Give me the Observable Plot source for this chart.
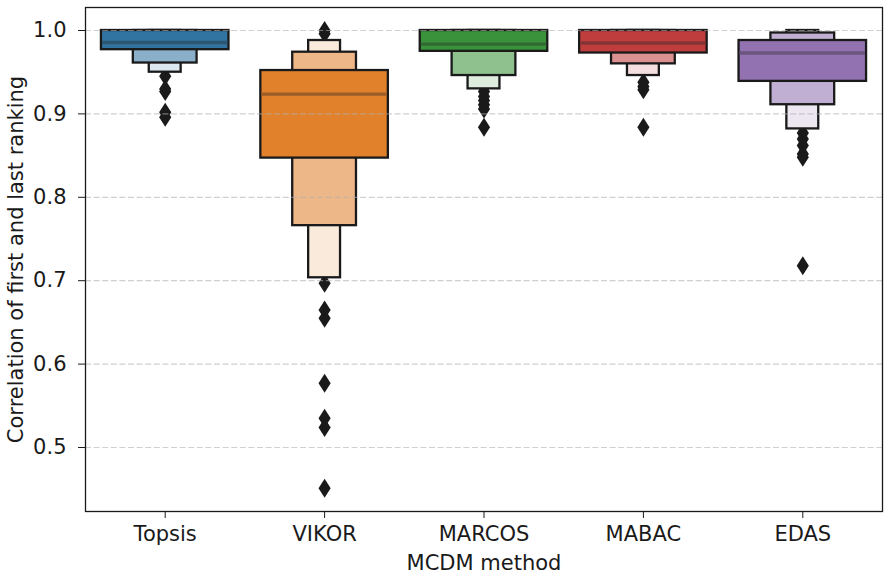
<!DOCTYPE html>
<html>
<head>
<meta charset="utf-8">
<script src="https://cdn.jsdelivr.net/npm/d3@7"></script>
<script src="https://cdn.jsdelivr.net/npm/@observablehq/plot@0.6"></script>
<style>
  html, body { margin: 0; padding: 0; background: #fff; }
  #chart { width: 885px; height: 577px; }
  #chart svg text { font-family: "DejaVu Sans", sans-serif; font-size: 21px; fill: #1a1a1a; }
</style>
</head>
<body>
<div id="chart"></div>
<script>
// ---- Data ----
const methods = ["Topsis", "VIKOR", "MARCOS", "MABAC", "EDAS"];
const baseColors = ["#3274a1", "#e1812c", "#3a923a", "#c03d3e", "#9372b2"];
const medians  = [0.9856, 0.9236, 0.9836, 0.9850, 0.9730];
const level1Lo = [0.977, 0.847, 0.975, 0.973, 0.939];
const level1Hi = [1.000, 0.952, 1.000, 1.000, 0.988];
const level2Lo = [0.961, 0.766, 0.946, 0.960, 0.911];
const level2Hi = [1.000, 0.974, 1.000, 1.000, 0.997];
const level3Lo = [0.950, 0.7035, 0.930, 0.946, 0.882];
const level3Hi = [1.000, 0.988, 1.000, 1.000, 1.000];
const topsisOutliers = [0.945, 0.930, 0.927, 0.902, 0.896];
const vikorOutliers  = [1.000, 0.996, 0.697, 0.665, 0.655, 0.577, 0.535, 0.524, 0.451];
const marcosOutliers = [0.927, 0.921, 0.916, 0.911, 0.906, 0.884];
const mabacOutliers  = [0.938, 0.933, 0.929, 0.884];
const edasOutliers   = [0.877, 0.870, 0.862, 0.852, 0.848, 0.718];
const yTicks = [0.5, 0.6, 0.7, 0.8, 0.9, 1.0];

// ---- Derived tables ----
const levelWidths = [0.8, 0.4, 0.2];
const levelLight = [0, 0.43, 0.83];
const levelsLo = [level1Lo, level2Lo, level3Lo];
const levelsHi = [level1Hi, level2Hi, level3Hi];
const boxes = [];
for (let k = 2; k >= 0; k--) {
  methods.forEach((m, i) => {
    boxes.push({
      i, x1: i - levelWidths[k] / 2, x2: i + levelWidths[k] / 2,
      lo: levelsLo[k][i], hi: levelsHi[k][i],
      color: d3.interpolateRgb(baseColors[i], "#ffffff")(levelLight[k])
    });
  });
}
const medianRows = methods.map((m, i) => ({
  x1: i - levelWidths[0] / 2, x2: i + levelWidths[0] / 2, y: medians[i],
  color: d3.interpolateRgb(baseColors[i], "#262626")(0.38)
}));
const outlierLists = [topsisOutliers, vikorOutliers, marcosOutliers, mabacOutliers, edasOutliers];
const outliers = outlierLists.flatMap((arr, i) => arr.map(v => ({ i, v })));

const thinDiamond = {
  draw(context, size) {
    const r = Math.sqrt(size / Math.PI);
    const w = r * 0.64;
    context.moveTo(0, -r);
    context.lineTo(w, 0);
    context.lineTo(0, r);
    context.lineTo(-w, 0);
    context.closePath();
  }
};

const FS = 21;
const chart = Plot.plot({
  width: 885,
  height: 577,
  marginLeft: 85,
  marginRight: 3,
  marginTop: 7,
  marginBottom: 66,
  style: { fontFamily: "DejaVu Sans", fontSize: FS + "px", color: "#1a1a1a", background: "#fff" },
  x: { type: "linear", domain: [-0.5, 4.5] },
  y: { domain: [0.42326, 1.02758] },
  color: { type: "identity" },
  marks: [
    Plot.dot(outliers, { x: "i", y: "v", symbol: thinDiamond, r: 9.5, fill: "#1a1a1a", stroke: "none" }),
    Plot.rect(boxes, { x1: "x1", x2: "x2", y1: "lo", y2: "hi", fill: "color", stroke: "#1a1a1a", strokeWidth: 2.3 }),
    Plot.ruleY(yTicks, { stroke: "#b0b0b0", strokeOpacity: 0.6, strokeWidth: 1.2, strokeDasharray: "6,2.6" }),
    Plot.ruleY(medianRows, { y: "y", x1: "x1", x2: "x2", stroke: "color", strokeWidth: 3.3, insetLeft: 1, insetRight: 1 }),
    Plot.frame({ stroke: "#1a1a1a", strokeWidth: 1.3 }),
    Plot.axisY({
      ticks: yTicks, tickFormat: d3.format(".1f"), tickSize: 7, tickPadding: 12, fontSize: FS,
      label: "Correlation of first and last ranking", labelAnchor: "center", labelArrow: "none", labelOffset: 77
    }),
    Plot.axisX({
      ticks: [0, 1, 2, 3, 4], tickFormat: i => methods[i], tickSize: 7, tickPadding: 8, fontSize: FS,
      label: "MCDM method", labelAnchor: "center", labelArrow: "none", labelOffset: 58
    })
  ]
});
document.getElementById("chart").appendChild(chart);
</script>
</body>
</html>
